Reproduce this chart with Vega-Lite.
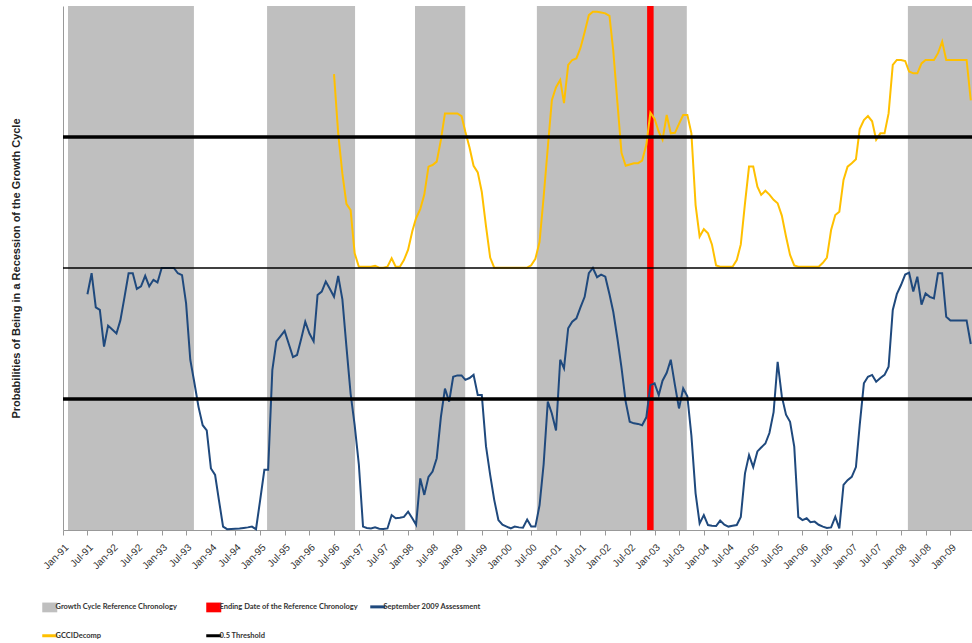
{
  "$schema": "https://vega.github.io/schema/vega-lite/v6.json",
  "width": 909,
  "height": 524,
  "autosize": {"type": "none"},
  "padding": {"left": 63, "top": 6, "right": 0, "bottom": 113},
  "config": {"view": {"stroke": null}, "font": "Liberation Sans"},
  "datasets": {
    "bands": [
      {"start": "1991-02-07", "end": "1993-08-28", "series": "Growth Cycle Reference Chronology"},
      {"start": "1995-02-21", "end": "1996-12-04", "series": "Growth Cycle Reference Chronology"},
      {"start": "1998-02-21", "end": "1999-02-28", "series": "Growth Cycle Reference Chronology"},
      {"start": "2000-08-12", "end": "2003-08-28", "series": "Growth Cycle Reference Chronology"},
      {"start": "2008-02-21", "end": "2009-06-10", "series": "Growth Cycle Reference Chronology"}
    ],
    "ending": [
      {"date": "2002-12-01", "series": "Ending Date of the Reference Chronology"}
    ],
    "thresholds": [
      {"level": 0.5, "series": "0.5 Threshold"},
      {"level": 1.5, "series": "0.5 Threshold"}
    ],
    "baseline": [
      {"level": 1.0}
    ],
    "assessment": [
      {"date": "1991-07-01", "prob": 0.90}, {"date": "1991-08-01", "prob": 0.98}, {"date": "1991-09-01", "prob": 0.85},
      {"date": "1991-10-01", "prob": 0.84}, {"date": "1991-11-01", "prob": 0.70}, {"date": "1991-12-01", "prob": 0.78},
      {"date": "1992-01-01", "prob": 0.765}, {"date": "1992-02-01", "prob": 0.75}, {"date": "1992-03-01", "prob": 0.80},
      {"date": "1992-04-01", "prob": 0.89}, {"date": "1992-05-01", "prob": 0.98}, {"date": "1992-06-01", "prob": 0.98},
      {"date": "1992-07-01", "prob": 0.92}, {"date": "1992-08-01", "prob": 0.93}, {"date": "1992-09-01", "prob": 0.97},
      {"date": "1992-10-01", "prob": 0.93}, {"date": "1992-11-01", "prob": 0.955}, {"date": "1992-12-01", "prob": 0.945},
      {"date": "1993-01-01", "prob": 1.0}, {"date": "1993-02-01", "prob": 1.0}, {"date": "1993-03-01", "prob": 1.0},
      {"date": "1993-04-01", "prob": 1.0}, {"date": "1993-05-01", "prob": 0.98}, {"date": "1993-06-01", "prob": 0.973},
      {"date": "1993-07-01", "prob": 0.865}, {"date": "1993-08-01", "prob": 0.65}, {"date": "1993-09-01", "prob": 0.56},
      {"date": "1993-10-01", "prob": 0.47}, {"date": "1993-11-01", "prob": 0.40}, {"date": "1993-12-01", "prob": 0.38},
      {"date": "1994-01-01", "prob": 0.235}, {"date": "1994-02-01", "prob": 0.21}, {"date": "1994-03-01", "prob": 0.115},
      {"date": "1994-04-01", "prob": 0.013}, {"date": "1994-05-01", "prob": 0.003}, {"date": "1994-06-01", "prob": 0.004},
      {"date": "1994-07-01", "prob": 0.005}, {"date": "1994-08-01", "prob": 0.006}, {"date": "1994-09-01", "prob": 0.008},
      {"date": "1994-10-01", "prob": 0.01}, {"date": "1994-11-01", "prob": 0.013}, {"date": "1994-12-01", "prob": 0.003},
      {"date": "1995-01-01", "prob": 0.115}, {"date": "1995-02-01", "prob": 0.23}, {"date": "1995-03-01", "prob": 0.23},
      {"date": "1995-04-01", "prob": 0.61}, {"date": "1995-05-01", "prob": 0.72}, {"date": "1995-06-01", "prob": 0.74},
      {"date": "1995-07-01", "prob": 0.76}, {"date": "1995-08-01", "prob": 0.71}, {"date": "1995-09-01", "prob": 0.66},
      {"date": "1995-10-01", "prob": 0.668}, {"date": "1995-11-01", "prob": 0.73}, {"date": "1995-12-01", "prob": 0.795},
      {"date": "1996-01-01", "prob": 0.75}, {"date": "1996-02-01", "prob": 0.72}, {"date": "1996-03-01", "prob": 0.897},
      {"date": "1996-04-01", "prob": 0.91}, {"date": "1996-05-01", "prob": 0.948}, {"date": "1996-06-01", "prob": 0.92},
      {"date": "1996-07-01", "prob": 0.89}, {"date": "1996-08-01", "prob": 0.97}, {"date": "1996-09-01", "prob": 0.88},
      {"date": "1996-10-01", "prob": 0.70}, {"date": "1996-11-01", "prob": 0.52}, {"date": "1996-12-01", "prob": 0.40},
      {"date": "1997-01-01", "prob": 0.25}, {"date": "1997-02-01", "prob": 0.013}, {"date": "1997-03-01", "prob": 0.008},
      {"date": "1997-04-01", "prob": 0.006}, {"date": "1997-05-01", "prob": 0.01}, {"date": "1997-06-01", "prob": 0.005},
      {"date": "1997-07-01", "prob": 0.004}, {"date": "1997-08-01", "prob": 0.006}, {"date": "1997-09-01", "prob": 0.057},
      {"date": "1997-10-01", "prob": 0.045}, {"date": "1997-11-01", "prob": 0.047}, {"date": "1997-12-01", "prob": 0.05},
      {"date": "1998-01-01", "prob": 0.07}, {"date": "1998-02-01", "prob": 0.045}, {"date": "1998-03-01", "prob": 0.02},
      {"date": "1998-04-01", "prob": 0.197}, {"date": "1998-05-01", "prob": 0.134}, {"date": "1998-06-01", "prob": 0.203},
      {"date": "1998-07-01", "prob": 0.223}, {"date": "1998-08-01", "prob": 0.274}, {"date": "1998-09-01", "prob": 0.432},
      {"date": "1998-10-01", "prob": 0.54}, {"date": "1998-11-01", "prob": 0.49}, {"date": "1998-12-01", "prob": 0.585},
      {"date": "1999-01-01", "prob": 0.59}, {"date": "1999-02-01", "prob": 0.59}, {"date": "1999-03-01", "prob": 0.573},
      {"date": "1999-04-01", "prob": 0.58}, {"date": "1999-05-01", "prob": 0.592}, {"date": "1999-06-01", "prob": 0.515},
      {"date": "1999-07-01", "prob": 0.515}, {"date": "1999-08-01", "prob": 0.32}, {"date": "1999-09-01", "prob": 0.21},
      {"date": "1999-10-01", "prob": 0.115}, {"date": "1999-11-01", "prob": 0.038}, {"date": "1999-12-01", "prob": 0.02},
      {"date": "2000-01-01", "prob": 0.013}, {"date": "2000-02-01", "prob": 0.006}, {"date": "2000-03-01", "prob": 0.013},
      {"date": "2000-04-01", "prob": 0.01}, {"date": "2000-05-01", "prob": 0.009}, {"date": "2000-06-01", "prob": 0.04},
      {"date": "2000-07-01", "prob": 0.013}, {"date": "2000-08-01", "prob": 0.013}, {"date": "2000-09-01", "prob": 0.095},
      {"date": "2000-10-01", "prob": 0.25}, {"date": "2000-11-01", "prob": 0.49}, {"date": "2000-12-01", "prob": 0.445},
      {"date": "2001-01-01", "prob": 0.38}, {"date": "2001-02-01", "prob": 0.65}, {"date": "2001-03-01", "prob": 0.617},
      {"date": "2001-04-01", "prob": 0.77}, {"date": "2001-05-01", "prob": 0.795}, {"date": "2001-06-01", "prob": 0.808},
      {"date": "2001-07-01", "prob": 0.85}, {"date": "2001-08-01", "prob": 0.89}, {"date": "2001-09-01", "prob": 0.98},
      {"date": "2001-10-01", "prob": 1.0}, {"date": "2001-11-01", "prob": 0.965}, {"date": "2001-12-01", "prob": 0.975},
      {"date": "2002-01-01", "prob": 0.967}, {"date": "2002-02-01", "prob": 0.9}, {"date": "2002-03-01", "prob": 0.833},
      {"date": "2002-04-01", "prob": 0.73}, {"date": "2002-05-01", "prob": 0.62}, {"date": "2002-06-01", "prob": 0.49},
      {"date": "2002-07-01", "prob": 0.413}, {"date": "2002-08-01", "prob": 0.407}, {"date": "2002-09-01", "prob": 0.405},
      {"date": "2002-10-01", "prob": 0.40}, {"date": "2002-11-01", "prob": 0.43}, {"date": "2002-12-01", "prob": 0.553},
      {"date": "2003-01-01", "prob": 0.56}, {"date": "2003-02-01", "prob": 0.515}, {"date": "2003-03-01", "prob": 0.57},
      {"date": "2003-04-01", "prob": 0.6}, {"date": "2003-05-01", "prob": 0.65}, {"date": "2003-06-01", "prob": 0.553},
      {"date": "2003-07-01", "prob": 0.464}, {"date": "2003-08-01", "prob": 0.54}, {"date": "2003-09-01", "prob": 0.51},
      {"date": "2003-10-01", "prob": 0.36}, {"date": "2003-11-01", "prob": 0.14}, {"date": "2003-12-01", "prob": 0.025},
      {"date": "2004-01-01", "prob": 0.057}, {"date": "2004-02-01", "prob": 0.019}, {"date": "2004-03-01", "prob": 0.016},
      {"date": "2004-04-01", "prob": 0.015}, {"date": "2004-05-01", "prob": 0.036}, {"date": "2004-06-01", "prob": 0.02},
      {"date": "2004-07-01", "prob": 0.013}, {"date": "2004-08-01", "prob": 0.016}, {"date": "2004-09-01", "prob": 0.019},
      {"date": "2004-10-01", "prob": 0.05}, {"date": "2004-11-01", "prob": 0.216}, {"date": "2004-12-01", "prob": 0.286},
      {"date": "2005-01-01", "prob": 0.24}, {"date": "2005-02-01", "prob": 0.30}, {"date": "2005-03-01", "prob": 0.315},
      {"date": "2005-04-01", "prob": 0.33}, {"date": "2005-05-01", "prob": 0.37}, {"date": "2005-06-01", "prob": 0.45},
      {"date": "2005-07-01", "prob": 0.642}, {"date": "2005-08-01", "prob": 0.51}, {"date": "2005-09-01", "prob": 0.44},
      {"date": "2005-10-01", "prob": 0.413}, {"date": "2005-11-01", "prob": 0.318}, {"date": "2005-12-01", "prob": 0.05},
      {"date": "2006-01-01", "prob": 0.038}, {"date": "2006-02-01", "prob": 0.045}, {"date": "2006-03-01", "prob": 0.03},
      {"date": "2006-04-01", "prob": 0.032}, {"date": "2006-05-01", "prob": 0.02}, {"date": "2006-06-01", "prob": 0.013},
      {"date": "2006-07-01", "prob": 0.008}, {"date": "2006-08-01", "prob": 0.01}, {"date": "2006-09-01", "prob": 0.05},
      {"date": "2006-10-01", "prob": 0.006}, {"date": "2006-11-01", "prob": 0.172}, {"date": "2006-12-01", "prob": 0.19},
      {"date": "2007-01-01", "prob": 0.203}, {"date": "2007-02-01", "prob": 0.24}, {"date": "2007-03-01", "prob": 0.4},
      {"date": "2007-04-01", "prob": 0.56}, {"date": "2007-05-01", "prob": 0.585}, {"date": "2007-06-01", "prob": 0.592},
      {"date": "2007-07-01", "prob": 0.566}, {"date": "2007-08-01", "prob": 0.58}, {"date": "2007-09-01", "prob": 0.592},
      {"date": "2007-10-01", "prob": 0.623}, {"date": "2007-11-01", "prob": 0.84}, {"date": "2007-12-01", "prob": 0.9},
      {"date": "2008-01-01", "prob": 0.935}, {"date": "2008-02-01", "prob": 0.975}, {"date": "2008-03-01", "prob": 0.982},
      {"date": "2008-04-01", "prob": 0.91}, {"date": "2008-05-01", "prob": 0.967}, {"date": "2008-06-01", "prob": 0.86},
      {"date": "2008-07-01", "prob": 0.903}, {"date": "2008-08-01", "prob": 0.89}, {"date": "2008-09-01", "prob": 0.884},
      {"date": "2008-10-01", "prob": 0.98}, {"date": "2008-11-01", "prob": 0.98}, {"date": "2008-12-01", "prob": 0.814},
      {"date": "2009-01-01", "prob": 0.80}, {"date": "2009-02-01", "prob": 0.80}, {"date": "2009-03-01", "prob": 0.80},
      {"date": "2009-04-01", "prob": 0.80}, {"date": "2009-05-01", "prob": 0.80}, {"date": "2009-06-01", "prob": 0.71}
    ],
    "gcci": [
      {"date": "1996-07-01", "level": 1.74}, {"date": "1996-08-01", "level": 1.514}, {"date": "1996-09-01", "level": 1.36},
      {"date": "1996-10-01", "level": 1.245}, {"date": "1996-11-01", "level": 1.221}, {"date": "1996-12-01", "level": 1.056},
      {"date": "1997-01-01", "level": 1.005}, {"date": "1997-02-01", "level": 1.005}, {"date": "1997-03-01", "level": 1.005},
      {"date": "1997-04-01", "level": 1.005}, {"date": "1997-05-01", "level": 1.008}, {"date": "1997-06-01", "level": 1.001},
      {"date": "1997-07-01", "level": 1.001}, {"date": "1997-08-01", "level": 1.005}, {"date": "1997-09-01", "level": 1.037},
      {"date": "1997-10-01", "level": 1.005}, {"date": "1997-11-01", "level": 1.005}, {"date": "1997-12-01", "level": 1.03},
      {"date": "1998-01-01", "level": 1.07}, {"date": "1998-02-01", "level": 1.14}, {"date": "1998-03-01", "level": 1.19},
      {"date": "1998-04-01", "level": 1.225}, {"date": "1998-05-01", "level": 1.28}, {"date": "1998-06-01", "level": 1.387},
      {"date": "1998-07-01", "level": 1.393}, {"date": "1998-08-01", "level": 1.406}, {"date": "1998-09-01", "level": 1.489},
      {"date": "1998-10-01", "level": 1.59}, {"date": "1998-11-01", "level": 1.59}, {"date": "1998-12-01", "level": 1.59},
      {"date": "1999-01-01", "level": 1.59}, {"date": "1999-02-01", "level": 1.58}, {"date": "1999-03-01", "level": 1.52},
      {"date": "1999-04-01", "level": 1.46}, {"date": "1999-05-01", "level": 1.39}, {"date": "1999-06-01", "level": 1.365},
      {"date": "1999-07-01", "level": 1.29}, {"date": "1999-08-01", "level": 1.16}, {"date": "1999-09-01", "level": 1.04},
      {"date": "1999-10-01", "level": 1.001}, {"date": "1999-11-01", "level": 1.001}, {"date": "1999-12-01", "level": 1.001},
      {"date": "2000-01-01", "level": 1.001}, {"date": "2000-02-01", "level": 1.001}, {"date": "2000-03-01", "level": 1.001},
      {"date": "2000-04-01", "level": 1.001}, {"date": "2000-05-01", "level": 1.001}, {"date": "2000-06-01", "level": 1.001},
      {"date": "2000-07-01", "level": 1.01}, {"date": "2000-08-01", "level": 1.035}, {"date": "2000-09-01", "level": 1.10},
      {"date": "2000-10-01", "level": 1.27}, {"date": "2000-11-01", "level": 1.46}, {"date": "2000-12-01", "level": 1.64},
      {"date": "2001-01-01", "level": 1.69}, {"date": "2001-02-01", "level": 1.718}, {"date": "2001-03-01", "level": 1.629},
      {"date": "2001-04-01", "level": 1.775}, {"date": "2001-05-01", "level": 1.794}, {"date": "2001-06-01", "level": 1.80},
      {"date": "2001-07-01", "level": 1.84}, {"date": "2001-08-01", "level": 1.90}, {"date": "2001-09-01", "level": 1.965},
      {"date": "2001-10-01", "level": 1.978}, {"date": "2001-11-01", "level": 1.978}, {"date": "2001-12-01", "level": 1.975},
      {"date": "2002-01-01", "level": 1.972}, {"date": "2002-02-01", "level": 1.962}, {"date": "2002-03-01", "level": 1.83},
      {"date": "2002-04-01", "level": 1.63}, {"date": "2002-05-01", "level": 1.44}, {"date": "2002-06-01", "level": 1.39},
      {"date": "2002-07-01", "level": 1.395}, {"date": "2002-08-01", "level": 1.40}, {"date": "2002-09-01", "level": 1.40},
      {"date": "2002-10-01", "level": 1.41}, {"date": "2002-11-01", "level": 1.47}, {"date": "2002-12-01", "level": 1.593},
      {"date": "2003-01-01", "level": 1.57}, {"date": "2003-02-01", "level": 1.52}, {"date": "2003-03-01", "level": 1.49},
      {"date": "2003-04-01", "level": 1.584}, {"date": "2003-05-01", "level": 1.514}, {"date": "2003-06-01", "level": 1.516},
      {"date": "2003-07-01", "level": 1.55}, {"date": "2003-08-01", "level": 1.584}, {"date": "2003-09-01", "level": 1.584},
      {"date": "2003-10-01", "level": 1.514}, {"date": "2003-11-01", "level": 1.24}, {"date": "2003-12-01", "level": 1.12},
      {"date": "2004-01-01", "level": 1.148}, {"date": "2004-02-01", "level": 1.132}, {"date": "2004-03-01", "level": 1.09},
      {"date": "2004-04-01", "level": 1.01}, {"date": "2004-05-01", "level": 1.005}, {"date": "2004-06-01", "level": 1.005},
      {"date": "2004-07-01", "level": 1.005}, {"date": "2004-08-01", "level": 1.005}, {"date": "2004-09-01", "level": 1.03},
      {"date": "2004-10-01", "level": 1.09}, {"date": "2004-11-01", "level": 1.247}, {"date": "2004-12-01", "level": 1.387},
      {"date": "2005-01-01", "level": 1.387}, {"date": "2005-02-01", "level": 1.31}, {"date": "2005-03-01", "level": 1.279},
      {"date": "2005-04-01", "level": 1.295}, {"date": "2005-05-01", "level": 1.28}, {"date": "2005-06-01", "level": 1.26},
      {"date": "2005-07-01", "level": 1.247}, {"date": "2005-08-01", "level": 1.2}, {"date": "2005-09-01", "level": 1.12},
      {"date": "2005-10-01", "level": 1.05}, {"date": "2005-11-01", "level": 1.01}, {"date": "2005-12-01", "level": 1.005},
      {"date": "2006-01-01", "level": 1.005}, {"date": "2006-02-01", "level": 1.005}, {"date": "2006-03-01", "level": 1.005},
      {"date": "2006-04-01", "level": 1.005}, {"date": "2006-05-01", "level": 1.005}, {"date": "2006-06-01", "level": 1.02},
      {"date": "2006-07-01", "level": 1.04}, {"date": "2006-08-01", "level": 1.145}, {"date": "2006-09-01", "level": 1.202},
      {"date": "2006-10-01", "level": 1.215}, {"date": "2006-11-01", "level": 1.336}, {"date": "2006-12-01", "level": 1.387},
      {"date": "2007-01-01", "level": 1.40}, {"date": "2007-02-01", "level": 1.415}, {"date": "2007-03-01", "level": 1.53},
      {"date": "2007-04-01", "level": 1.565}, {"date": "2007-05-01", "level": 1.58}, {"date": "2007-06-01", "level": 1.56},
      {"date": "2007-07-01", "level": 1.49}, {"date": "2007-08-01", "level": 1.514}, {"date": "2007-09-01", "level": 1.514},
      {"date": "2007-10-01", "level": 1.59}, {"date": "2007-11-01", "level": 1.775}, {"date": "2007-12-01", "level": 1.794},
      {"date": "2008-01-01", "level": 1.794}, {"date": "2008-02-01", "level": 1.79}, {"date": "2008-03-01", "level": 1.75},
      {"date": "2008-04-01", "level": 1.743}, {"date": "2008-05-01", "level": 1.743}, {"date": "2008-06-01", "level": 1.781},
      {"date": "2008-07-01", "level": 1.794}, {"date": "2008-08-01", "level": 1.794}, {"date": "2008-09-01", "level": 1.794},
      {"date": "2008-10-01", "level": 1.82}, {"date": "2008-11-01", "level": 1.864}, {"date": "2008-12-01", "level": 1.794},
      {"date": "2009-01-01", "level": 1.794}, {"date": "2009-02-01", "level": 1.794}, {"date": "2009-03-01", "level": 1.794},
      {"date": "2009-04-01", "level": 1.794}, {"date": "2009-05-01", "level": 1.794}, {"date": "2009-06-01", "level": 1.64}
    ]
  },
  "layer": [
    {
      "data": {"name": "bands"},
      "mark": {"type": "rect"},
      "encoding": {
        "x": {
          "field": "start", "type": "temporal",
          "scale": {"type": "utc", "domain": [{"year": 1991, "month": 1, "date": 1, "utc": true}, {"year": 2009, "month": 6, "date": 10, "utc": true}]},
          "axis": {
            "title": null, "grid": false,
            "tickCount": {"interval": "month", "step": 6},
            "labelExpr": "utcFormat(datum.value, '%b-%y')",
            "labelAngle": -45, "labelFontSize": 10, "labelColor": "#333333", "labelPadding": 7,
            "tickSize": 5, "tickColor": "#999999", "domainColor": "#999999", "labelOverlap": false, "labelBound": false, "labelFlush": false
          }
        },
        "x2": {"field": "end"},
        "color": {
          "field": "series", "type": "nominal",
          "scale": {
            "domain": ["Growth Cycle Reference Chronology", "Ending Date of the Reference Chronology", "September 2009 Assessment", "GCCIDecomp", "0.5 Threshold"],
            "range": ["#BFBFBF", "#FF0000", "#1F497D", "#FFC000", "#000000"]
          },
          "legend": {
            "title": null, "orient": "none", "legendX": -17, "legendY": 597,
            "direction": "horizontal", "columns": 3, "gridAlign": "all",
            "columnPadding": 6, "rowPadding": 16,
            "labelFont": "Lato", "labelFontSize": 7.5, "labelFontWeight": "bold", "labelColor": "#333333",
            "labelOffset": 2, "symbolSize": 225, "labelLimit": 300,
            "encode": {
              "symbols": {
                "update": {
                  "shape": {"signal": "(datum.value === 'Growth Cycle Reference Chronology' || datum.value === 'Ending Date of the Reference Chronology') ? 'M-1,-0.65H1V0.65H-1Z' : 'stroke'"},
                  "fill": {"signal": "datum.value === 'Growth Cycle Reference Chronology' ? '#BFBFBF' : datum.value === 'Ending Date of the Reference Chronology' ? '#FF0000' : 'transparent'"},
                  "stroke": {"signal": "datum.value === 'September 2009 Assessment' ? '#1F497D' : datum.value === 'GCCIDecomp' ? '#FFC000' : datum.value === '0.5 Threshold' ? '#000000' : 'transparent'"},
                  "strokeWidth": {"signal": "(datum.value === 'Growth Cycle Reference Chronology' || datum.value === 'Ending Date of the Reference Chronology') ? 0 : 3"},
                  "opacity": {"value": 1}
                }
              }
            }
          }
        }
      }
    },
    {
      "data": {"name": "ending"},
      "mark": {"type": "rule", "strokeWidth": 6.5},
      "encoding": {
        "x": {"field": "date", "type": "temporal"},
        "color": {"field": "series", "type": "nominal"}
      }
    },
    {
      "data": {"name": "assessment"},
      "mark": {"type": "line", "strokeWidth": 2, "interpolate": "linear"},
      "encoding": {
        "x": {"field": "date", "type": "temporal"},
        "y": {"field": "prob", "type": "quantitative", "scale": {"domain": [0, 2], "nice": false},
              "axis": {"title": "Probabilities of Being in a Recession of the Growth Cycle", "labels": false, "ticks": false, "grid": false,
                       "domainColor": "#999999", "titleFontSize": 11, "titleFontWeight": "bold", "titleColor": "#222222", "titlePadding": 42}},
        "color": {"datum": "September 2009 Assessment"}
      }
    },
    {
      "data": {"name": "gcci"},
      "mark": {"type": "line", "strokeWidth": 2, "interpolate": "linear"},
      "encoding": {
        "x": {"field": "date", "type": "temporal"},
        "y": {"field": "level", "type": "quantitative"},
        "color": {"datum": "GCCIDecomp"}
      }
    },
    {
      "data": {"name": "baseline"},
      "mark": {"type": "rule", "strokeWidth": 1.5, "color": "#000000"},
      "encoding": {
        "y": {"field": "level", "type": "quantitative"}
      }
    },
    {
      "data": {"name": "thresholds"},
      "mark": {"type": "rule", "strokeWidth": 3.3},
      "encoding": {
        "y": {"field": "level", "type": "quantitative"},
        "color": {"field": "series", "type": "nominal"}
      }
    }
  ]
}
